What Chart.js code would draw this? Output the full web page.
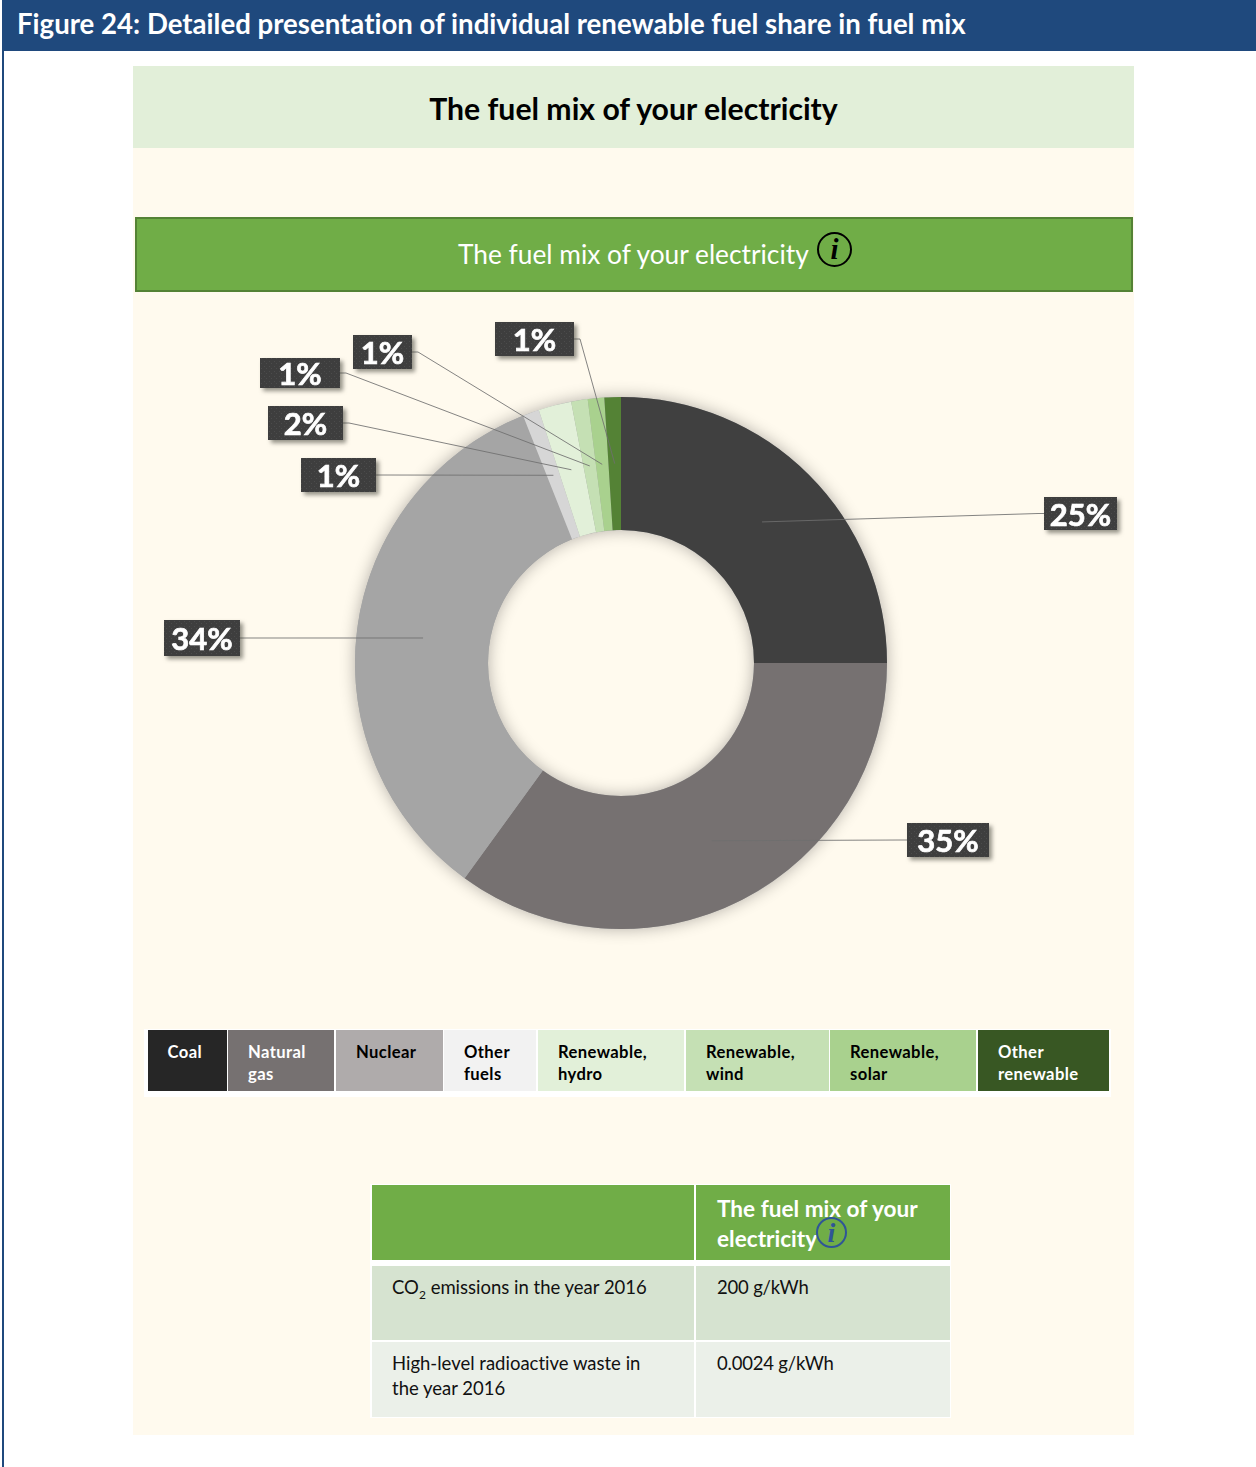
<!DOCTYPE html>
<html>
<head>
<meta charset="utf-8">
<title>Fuel mix</title>
<script src="https://cdn.jsdelivr.net/npm/chart.js@4/dist/chart.umd.js"></script>
<style>
    html, body { margin: 0; padding: 0; background: #fff; }
    body { position: relative; width: 1256px; height: 1467px; overflow: hidden; font-family: Lato, sans-serif; font-variant-ligatures: none; }
    .box { position: absolute; box-sizing: border-box; }
    #figBar { left: 2px; top: 0; width: 1254px; height: 51px; background: #1f497d; color: #fff;
        font-weight: 700; font-size: 27.6px; line-height: 47px; padding-left: 15px; white-space: nowrap; }
    #figSide { left: 2px; top: 51px; width: 2px; height: 1416px; background: #1f497d; }
    #panel { left: 133px; top: 148px; width: 1001px; height: 1287px; background: #fffaee; }
    #heading { left: 133px; top: 66px; width: 1001px; height: 82px; background: #e2efd9; color: #000;
        text-align: center; font-weight: 700; font-size: 30.2px; line-height: 84px; }
    #banner { left: 135px; top: 217px; width: 998px; height: 75px; background: #70ad47; border: 2px solid #548235;
        color: #fff; font-size: 26.3px; line-height: 71px; white-space: nowrap; }
    #banner span { position: absolute; left: 321px; top: 0; }
    .info { position: absolute; box-sizing: border-box; border-radius: 50%; border: 2px solid #000; text-align: center;
        font-family: "Liberation Serif", serif; font-style: italic; font-weight: 700; color: #000; }
    #chartWrap { left: 108px; top: 300px; width: 1026px; height: 726px; }
    #legendBack { left: 144px; top: 1029px; width: 967px; height: 68px; background: #fff; }
    .cell { position: absolute; box-sizing: border-box; top: 1030px; height: 61px; padding: 11px 0 0 20px;
        font-size: 16.6px; font-weight: 700; letter-spacing: 0.4px; line-height: 22px; white-space: pre-line; }
    .tcell { position: absolute; box-sizing: border-box; padding: 9px 0 0 20px; font-size: 18.5px; line-height: 25px; color: #111; }
    .tcell sub { font-size: 12px; line-height: 0; }
    .thead { background: #70ad47; color: #fff; font-weight: 700; font-size: 22.6px; line-height: 30px; padding-top: 9px; padding-left: 21px; }
    #tableBack { left: 370px; top: 1184px; width: 581px; height: 234px; background: #fff; }
</style>
</head>
<body>
<div class="box" id="figBar">Figure 24: Detailed presentation of individual renewable fuel share in fuel mix</div>
<div class="box" id="figSide"></div>
<div class="box" id="panel"></div>
<div class="box" id="heading">The fuel mix of your electricity</div>
<div class="box" id="banner"><span>The fuel mix of your electricity</span></div>
<div class="info" style="left:817px;top:232px;width:35px;height:35px;font-size:29px;line-height:30px;">i</div>

<div class="box" id="chartWrap"><canvas id="fuelChart" width="1026" height="726"></canvas></div>

<div class="box" id="legendBack"></div>
<div id="legend"></div>

<div class="box" id="tableBack"></div>
<div id="infoTable"></div>

<script>
// Fuel shares in percent
const fuels = ['Coal', 'Natural gas', 'Nuclear', 'Other fuels', 'Renewable, hydro', 'Renewable, wind', 'Renewable, solar', 'Other renewable'];
const shares = [25, 35, 34, 1, 2, 1, 1, 1];
const sliceColors = ['#404040', '#767171', '#a5a5a5', '#d6d6d6', '#e2f0d9', '#c5e0b4', '#a9d18e', '#548235'];
const legendColors = ['#262626', '#767171', '#afabab', '#f2f2f2', '#e2f0d9', '#c5e0b4', '#a9d18e', '#385723'];
const legendText = ['#fff', '#fff', '#000', '#000', '#000', '#000', '#000', '#fff'];
const legendLeft = [147.5, 228, 336, 444, 538, 686, 830, 978];
const legendWidth = [79.5, 106, 106.5, 92, 146, 143, 146, 131];

// Table under the legend
const tableRows = [
    ['CO<sub>2</sub> emissions in the year 2016', '200 g/kWh'],
    ['High-level radioactive waste in<br>the year 2016', '0.0024 g/kWh']
];
const tableHead = 'The fuel mix of your<br>electricity';

// Label boxes in canvas coordinates: x, y, w, h (one per slice)
const labelBoxes = [
    [936, 197, 73, 33],
    [799, 523, 82, 34],
    [56, 320, 76, 36],
    [193, 158, 75, 34],
    [160, 106, 75, 34],
    [152, 58, 80, 30],
    [245, 35, 59, 34],
    [387, 22, 79, 34]
];

// Dotted fill for the label boxes
function dotPattern(ctx) {
    const c = document.createElement('canvas');
    c.width = 5;
    c.height = 5;
    const p = c.getContext('2d');
    p.fillStyle = '#3e3e3e';
    p.fillRect(0, 0, 5, 5);
    p.fillStyle = '#4c4c4c';
    p.fillRect(1, 1, 1, 1);
    p.fillRect(3, 3, 1, 1);
    return ctx.createPattern(c, 'repeat');
}

// Soft shadow under the ring
const ringShadow = {
    id: 'ringShadow',
    beforeDatasetsDraw(chart) {
        const arc = chart.getDatasetMeta(0).data[0];
        const ctx = chart.ctx;
        ctx.save();
        ctx.shadowColor = 'rgba(0,0,0,0.3)';
        ctx.shadowBlur = 16;
        ctx.fillStyle = '#a5a5a5';
        ctx.beginPath();
        ctx.arc(arc.x, arc.y, arc.outerRadius, 0, Math.PI * 2);
        ctx.arc(arc.x, arc.y, arc.innerRadius, 0, Math.PI * 2, true);
        ctx.fill();
        ctx.restore();
    }
};

// Leader lines and percent boxes
const shareLabels = {
    id: 'shareLabels',
    afterDatasetsDraw(chart) {
        const ctx = chart.ctx;
        const arcs = chart.getDatasetMeta(0).data;
        const fill = dotPattern(ctx);

        arcs.forEach(function(arc, i) {
            const b = labelBoxes[i];
            const anchor = arc.getCenterPoint();
            const startX = anchor.x > b[0] + b[2] ? b[0] + b[2] : b[0];
            const startY = b[1] + b[3] / 2;
            const elbow = anchor.x > b[0] + b[2] ? startX + 6 : startX - 6;
            ctx.save();
            ctx.strokeStyle = 'rgba(110,110,110,0.85)';
            ctx.lineWidth = 1;
            ctx.beginPath();
            ctx.moveTo(startX, startY);
            ctx.lineTo(elbow, startY);
            ctx.lineTo(anchor.x, anchor.y);
            ctx.stroke();
            ctx.restore();
        });

        arcs.forEach(function(arc, i) {
            const b = labelBoxes[i];
            ctx.save();
            ctx.shadowColor = 'rgba(60,60,50,0.55)';
            ctx.shadowBlur = 4;
            ctx.shadowOffsetX = 3;
            ctx.shadowOffsetY = 3;
            ctx.fillStyle = fill;
            ctx.fillRect(b[0], b[1], b[2], b[3]);
            ctx.restore();

            ctx.save();
            ctx.fillStyle = '#fff';
            ctx.strokeStyle = '#fff';
            ctx.lineWidth = 0.7;
            ctx.font = '700 31px Lato, sans-serif';
            ctx.textAlign = 'center';
            ctx.textBaseline = 'middle';
            ctx.fillText(shares[i] + '%', b[0] + b[2] / 2, b[1] + b[3] / 2 + 2);
            ctx.strokeText(shares[i] + '%', b[0] + b[2] / 2, b[1] + b[3] / 2 + 2);
            ctx.restore();
        });
    }
};

new Chart(document.getElementById('fuelChart').getContext('2d'), {
    type: 'doughnut',
    data: {
        labels: fuels,
        datasets: [{
            data: shares,
            backgroundColor: sliceColors,
            borderWidth: 0
        }]
    },
    options: {
        responsive: false,
        animation: false,
        cutout: '50%',
        layout: { padding: { top: 97, bottom: 97, left: 120, right: 120 } },
        plugins: {
            legend: { display: false },
            tooltip: { enabled: false }
        }
    },
    plugins: [ringShadow, shareLabels]
});

// Legend strip
document.getElementById('legend').innerHTML = fuels.map(function(name, i) {
    return '<div class="cell" style="left:' + legendLeft[i] + 'px;width:' + legendWidth[i] + 'px;background:' +
        legendColors[i] + ';color:' + legendText[i] + '">' + name.replace(' ', '\n') + '</div>';
}).join('');

// Table
const rowTops = [1266, 1341.5];
const rowHeights = [73.5, 75.5];
const rowColors = ['#d6e3d0', '#ebf0e9'];
let tableHtml = '<div class="tcell thead" style="left:372px;top:1185px;width:322px;height:75px"></div>' +
    '<div class="tcell thead" style="left:696px;top:1185px;width:254px;height:75px">' + tableHead + '</div>';
tableRows.forEach(function(row, i) {
    const pos = 'top:' + rowTops[i] + 'px;height:' + rowHeights[i] + 'px;background:' + rowColors[i];
    tableHtml += '<div class="tcell" style="left:372px;width:322px;' + pos + '">' + row[0] + '</div>';
    tableHtml += '<div class="tcell" style="left:696px;width:254px;padding-left:21px;letter-spacing:-0.2px;' + pos + '">' + row[1] + '</div>';
});
tableHtml += '<div class="info" style="left:816px;top:1217px;width:31px;height:31px;font-size:28px;line-height:28px;border-color:#2f5597;color:#2f5597;">i</div>';
document.getElementById('infoTable').innerHTML = tableHtml;
</script>
</body>
</html>
